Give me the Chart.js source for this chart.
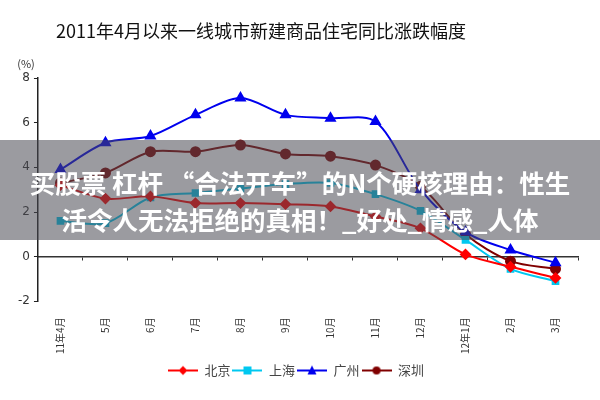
<!DOCTYPE html>
<html>
<head>
<meta charset="utf-8">
<script src="https://cdn.jsdelivr.net/npm/chart.js@4"></script>
<style>
  body { margin: 0; background: #fff; }
  #wrap { position: relative; width: 600px; height: 400px; }
  #title {
    position: absolute; left: 0; top: 17px; width: 522px; text-align: center;
    font: 18px "Noto Sans CJK SC", sans-serif; color: #111;
  }
  #banner {
    position: absolute; left: 0; top: 140px; width: 600px; height: 100px;
    background: rgba(72, 72, 82, 0.55); color: #fff; text-align: center;
    font: bold 25.5px/37px "Noto Sans CJK SC", sans-serif; padding-top: 23px; box-sizing: border-box;
    white-space: nowrap;
  }
</style>
</head>
<body>
<div id="wrap">
  <canvas id="myChart" width="600" height="400"></canvas>
  <div id="title">2011年4月以来一线城市新建商品住宅同比涨跌幅度</div>
  <div id="banner">买股票 杠杆 “合法开车”的N个硬核理由：性生<br>活令人无法拒绝的真相！_好处_情感_人体</div>
</div>
<script>
const months = ["11年4月", "5月", "6月", "7月", "8月", "9月", "10月", "11月", "12月", "12年1月", "2月", "3月"];
const beijing = [3.2, 2.6, 2.7, 2.4, 2.4, 2.35, 2.25, 1.8, 1.27, 0.1, -0.45, -0.95];
const shanghai = [1.6, 1.5, 2.65, 2.85, 3.05, 3.25, 3.3, 2.8, 2.05, 0.75, -0.55, -1.1];
const guangzhou = [3.9, 5.1, 5.4, 6.35, 7.1, 6.35, 6.2, 6.05, 3.0, 1.1, 0.3, -0.27];
const shenzhen = [3.3, 3.75, 4.7, 4.7, 5.0, 4.6, 4.5, 4.1, 3.15, 1.0, -0.2, -0.55];
const yTicks = [-2, 0, 2, 4, 6, 8];

function legendIcon(color, style) {
  const c = document.createElement("canvas");
  c.width = 30;
  c.height = 12;
  const ctx = c.getContext("2d");
  ctx.strokeStyle = color;
  ctx.fillStyle = color;
  ctx.lineWidth = 2;
  ctx.beginPath();
  ctx.moveTo(0, 6);
  ctx.lineTo(30, 6);
  ctx.stroke();
  ctx.beginPath();
  if (style === "rectRot") {
    ctx.moveTo(15, 1.5); ctx.lineTo(19.5, 6); ctx.lineTo(15, 10.5); ctx.lineTo(10.5, 6);
  } else if (style === "rect") {
    ctx.rect(11, 2, 8, 8);
  } else if (style === "triangle") {
    ctx.moveTo(15, 1); ctx.lineTo(19.5, 10); ctx.lineTo(10.5, 10);
  } else {
    ctx.arc(15, 6, 4, 0, Math.PI * 2);
  }
  ctx.closePath();
  ctx.fill();
  return c;
}

const series = [
  { label: "北京", data: beijing, color: "#ff0000", style: "rectRot", r: 4.5 },
  { label: "上海", data: shanghai, color: "#00c8f0", style: "rect", r: 4 },
  { label: "广州", data: guangzhou, color: "#0000ee", style: "triangle", r: 5 },
  { label: "深圳", data: shenzhen, color: "#800000", style: "circle", r: 4.5 },
];

// "(%)" unit above the y axis
const percentLabel = {
  id: "percentLabel",
  afterDraw(chart) {
    const y = chart.scales.y;
    const ctx = chart.ctx;
    ctx.save();
    ctx.font = "11px 'Noto Sans CJK SC', sans-serif";
    ctx.fillStyle = "#333";
    ctx.textAlign = "center";
    ctx.fillText("(%)", y.right - 12, y.top - 14);
    ctx.restore();
  },
};

const config = {
  type: "line",
  data: {
    labels: months,
    datasets: series.map((s) => ({
      label: s.label,
      data: s.data,
      borderColor: s.color,
      backgroundColor: s.color,
      borderWidth: 2,
      pointStyle: s.style,
      pointRadius: s.r,
      pointHoverRadius: s.r,
      tension: 0.3,
      icon: legendIcon(s.color, s.style),
    })),
  },
  options: {
    responsive: false,
    animation: false,
    layout: { padding: { top: 78, left: 14, right: 22, bottom: 13 } },
    plugins: {
      title: { display: false },
      tooltip: { enabled: false },
      legend: {
        position: "bottom",
        labels: {
          usePointStyle: true,
          pointStyleWidth: 30,
          color: "#444",
          font: { size: 13, family: "'Noto Sans CJK SC', sans-serif" },
          padding: 2,
          generateLabels(chart) {
            return chart.data.datasets.map((ds, i) => ({
              text: ds.label,
              pointStyle: ds.icon,
              fillStyle: ds.borderColor,
              strokeStyle: ds.borderColor,
              lineWidth: 0,
              fontColor: "#444",
              datasetIndex: i,
              hidden: false,
            }));
          },
        },
      },
    },
    scales: {
      x: {
        type: "category",
        position: { y: 0 },
        offset: true,
        ticks: { display: false },
        grid: { display: true, drawOnChartArea: false, offset: true, tickLength: 3, color: "#333" },
        border: { display: true, color: "#333", width: 1.5 },
      },
      x2: {
        type: "category",
        labels: months,
        position: "bottom",
        offset: true,
        grid: { display: false },
        border: { display: false },
        ticks: {
          color: "#333",
          maxRotation: 90,
          minRotation: 90,
          padding: 8,
          font: { size: 10, family: "'Noto Sans CJK SC', serif" },
        },
      },
      y: {
        min: -2,
        max: 8,
        afterBuildTicks(axis) {
          axis.ticks = yTicks.map((v) => ({ value: v }));
        },
        grid: { display: true, drawOnChartArea: false, tickLength: 4, color: "#222" },
        border: { display: true, color: "#222", width: 1.5 },
        ticks: {
          color: "#333",
          padding: 4,
          font: { size: 12, family: "'DejaVu Sans', sans-serif" },
        },
      },
    },
  },
  plugins: [percentLabel],
};

const myChart = new Chart(document.getElementById("myChart"), config);
</script>
</body>
</html>
